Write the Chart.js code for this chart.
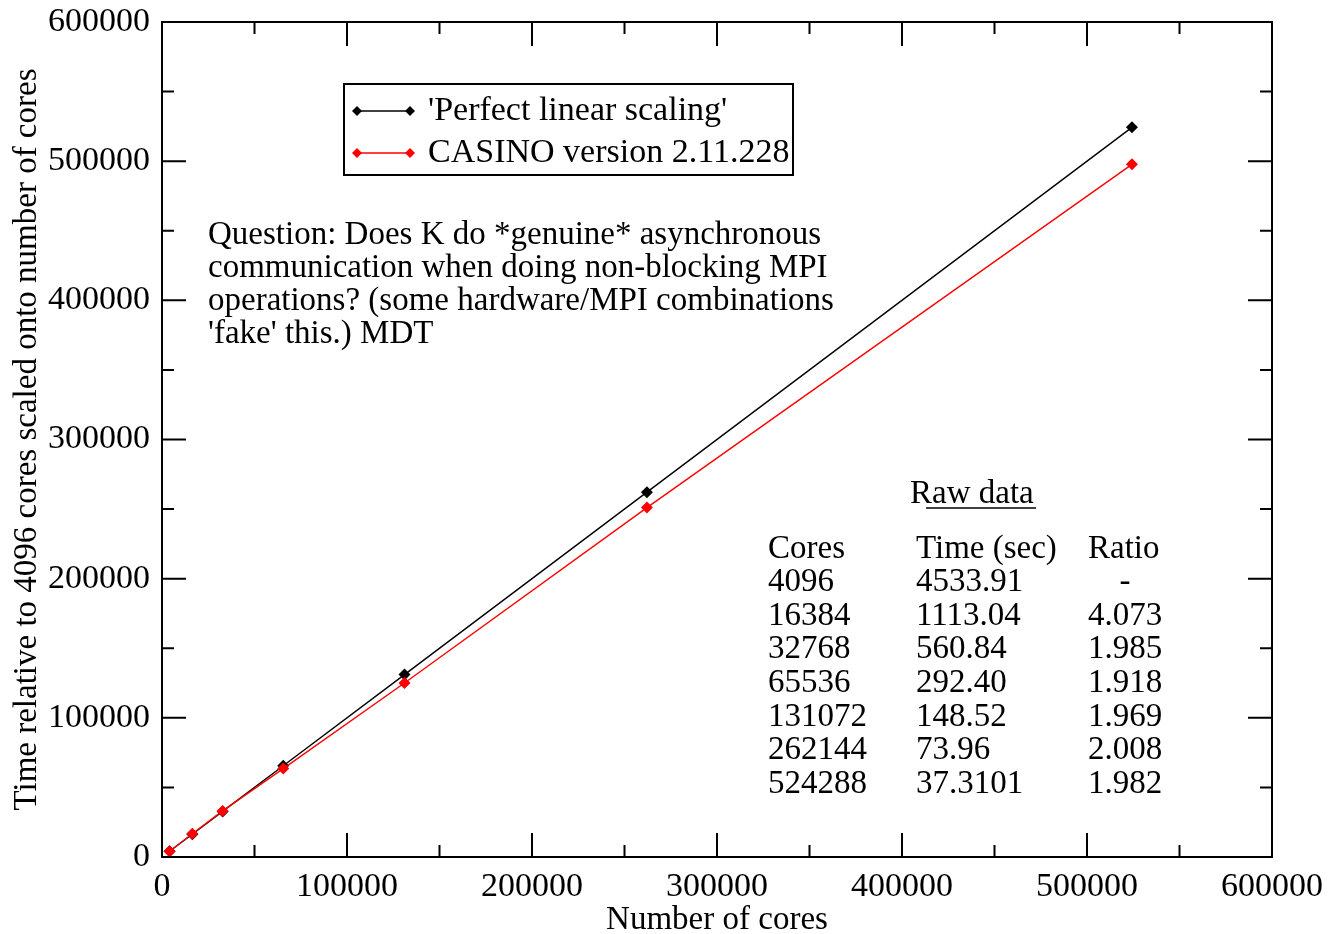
<!DOCTYPE html>
<html>
<head>
<meta charset="utf-8">
<script src="https://cdn.jsdelivr.net/npm/chart.js@4.4.1/dist/chart.umd.min.js"></script>
<style>
html,body{margin:0;padding:0;background:#fff;}
#wrap{width:1329px;height:934px;position:relative;}
</style>
</head>
<body>
<div id="wrap"><canvas id="c" width="1329" height="934"></canvas></div>
<script>
// ---- data ----
const cores = [4096, 16384, 32768, 65536, 131072, 262144, 524288];
const perfectScaling = [4096, 16384, 32768, 65536, 131072, 262144, 524288];
const casinoScaled = [4096, 16685, 33112, 63511, 125039, 251091, 497740];
const timeSec = ['4533.91', '1113.04', '560.84', '292.40', '148.52', '73.96', '37.3101'];
const ratios = ['-', '4.073', '1.985', '1.918', '1.969', '2.008', '1.982'];
const xTicks = [0, 100000, 200000, 300000, 400000, 500000, 600000];
const yTicks = [0, 100000, 200000, 300000, 400000, 500000, 600000];
const seriesNames = ["'Perfect linear scaling'", 'CASINO version 2.11.228'];
const noteLines = [
  'Question: Does K do *genuine* asynchronous',
  'communication when doing non-blocking MPI',
  'operations? (some hardware/MPI combinations',
  "'fake' this.) MDT"
];

const FONT = '"Liberation Serif", "Times New Roman", serif';
const FS_TEXT = 33;
const FS_TICK = 34;
const FS_LEG = 34;

const framePlugin = {
  id: 'frame',
  afterDatasetsDraw(chart) {
    const ctx = chart.ctx;
    const a = chart.chartArea;
    const xs = chart.scales.x, ys = chart.scales.y;
    ctx.save();
    ctx.strokeStyle = '#000';
    ctx.lineWidth = 2;
    ctx.strokeRect(a.left, a.top, a.right - a.left, a.bottom - a.top);
    // ticks inward on all four sides
    ctx.beginPath();
    for (let v = 0; v <= 600000; v += 50000) {
      const major = v % 100000 === 0;
      const L = major ? 24 : 12;
      const px = xs.getPixelForValue(v);
      ctx.moveTo(px, a.bottom); ctx.lineTo(px, a.bottom - L);
      ctx.moveTo(px, a.top); ctx.lineTo(px, a.top + L);
      const py = ys.getPixelForValue(v);
      ctx.moveTo(a.left, py); ctx.lineTo(a.left + L, py);
      ctx.moveTo(a.right, py); ctx.lineTo(a.right - L, py);
    }
    ctx.stroke();

    // legend box
    ctx.lineWidth = 2;
    ctx.strokeRect(344, 84, 449, 91);
    const ds = chart.data.datasets;
    const rows = [111, 153];
    ds.forEach((d, i) => {
      const y = rows[i];
      ctx.strokeStyle = d.borderColor;
      ctx.lineWidth = 1.5;
      ctx.beginPath(); ctx.moveTo(357, y); ctx.lineTo(410, y); ctx.stroke();
      ctx.fillStyle = d.borderColor;
      [357, 410].forEach(x => {
        ctx.beginPath();
        ctx.moveTo(x, y - 5); ctx.lineTo(x + 5, y); ctx.lineTo(x, y + 5); ctx.lineTo(x - 5, y);
        ctx.closePath(); ctx.fill();
      });
      ctx.fillStyle = '#000';
      ctx.font = FS_LEG + 'px ' + FONT;
      ctx.textBaseline = 'middle';
      ctx.textAlign = 'left';
      ctx.fillText(seriesNames[i], 428, y);
    });

    // note
    ctx.fillStyle = '#000';
    ctx.font = FS_TEXT + 'px ' + FONT;
    ctx.textBaseline = 'middle';
    noteLines.forEach((t, i) => ctx.fillText(t, 208, 235 + i * 33));

    // raw data table
    ctx.textAlign = 'left';
    ctx.fillText('Raw data', 910, 494);
    ctx.lineWidth = 1.5;
    ctx.strokeStyle = '#000';
    ctx.beginPath(); ctx.moveTo(926, 508); ctx.lineTo(1036, 508); ctx.stroke();
    const ry0 = 549, dy = 33.6;
    ctx.fillText('Cores', 768, ry0);
    ctx.fillText('Time (sec)', 916, ry0);
    ctx.fillText('Ratio', 1088, ry0);
    cores.forEach((c, i) => {
      const y = ry0 + (i + 1) * dy;
      ctx.textAlign = 'left';
      ctx.fillText(String(c), 768, y);
      ctx.fillText(timeSec[i], 916, y);
      if (ratios[i] === '-') { ctx.textAlign = 'center'; ctx.fillText('-', 1125, y); }
      else ctx.fillText(ratios[i], 1088, y);
    });
    ctx.restore();
  }
};

new Chart(document.getElementById('c'), {
  type: 'line',
  data: {
    datasets: [
      {
        label: seriesNames[0],
        data: cores.map((c, i) => ({x: c, y: perfectScaling[i]})),
        borderColor: '#000', backgroundColor: '#000',
        borderWidth: 1.4, pointStyle: 'rectRot', pointRadius: 6, pointBorderWidth: 0,
        tension: 0, order: 1
      },
      {
        label: seriesNames[1],
        data: cores.map((c, i) => ({x: c, y: casinoScaled[i]})),
        borderColor: '#ff0000', backgroundColor: '#ff0000',
        borderWidth: 1.4, pointStyle: 'rectRot', pointRadius: 6, pointBorderWidth: 0,
        tension: 0, order: 0
      }
    ]
  },
  options: {
    responsive: false,
    animation: false,
    devicePixelRatio: 1,
    layout: { padding: { top: 22, right: 57, left: 0, bottom: 0 } },
    plugins: { legend: { display: false }, tooltip: { enabled: false }, title: { display: false } },
    scales: {
      x: {
        type: 'linear', min: 0, max: 600000,
        afterFit(s) { s.height = 77; s.paddingLeft = 0; s.paddingRight = 0; },
        afterBuildTicks(s) { s.ticks = xTicks.map(v => ({value: v})); },
        grid: { display: false, drawTicks: false },
        border: { display: false },
        ticks: { color: '#000', font: { family: FONT, size: FS_TICK }, padding: 10, maxRotation: 0, callback: v => String(v) },
        title: { display: true, text: 'Number of cores', color: '#000', font: { family: FONT, size: FS_TEXT }, padding: { top: 0, bottom: -6 } }
      },
      y: {
        type: 'linear', min: 0, max: 600000,
        afterFit(s) { s.width = 162; s.paddingTop = 0; s.paddingBottom = 0; },
        afterBuildTicks(s) { s.ticks = yTicks.map(v => ({value: v})); },
        grid: { display: false, drawTicks: false },
        border: { display: false },
        ticks: { color: '#000', font: { family: FONT, size: FS_TICK }, padding: 12, callback: v => String(v) },
        title: { display: true, text: 'Time relative to 4096 cores scaled onto number of cores', color: '#000', font: { family: FONT, size: FS_TEXT }, padding: { top: 8, bottom: 0 } }
      }
    }
  },
  plugins: [framePlugin]
});
</script>
</body>
</html>
